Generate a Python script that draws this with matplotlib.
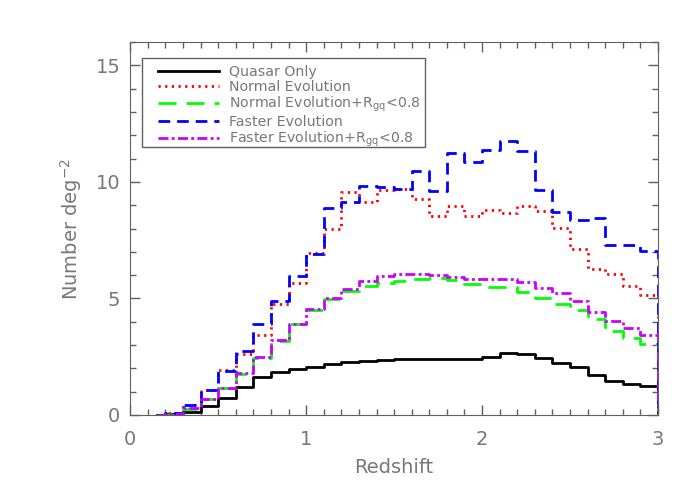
import numpy as np
import matplotlib
matplotlib.use('Agg')
import matplotlib.pyplot as plt
from matplotlib.patches import Rectangle
from matplotlib.ticker import MultipleLocator

# bin centres in redshift (last point closes the histogram at z=3)
z = [0.15, 0.25, 0.35, 0.45, 0.55, 0.65, 0.75, 0.85, 0.95, 1.05,
     1.15, 1.25, 1.35, 1.45, 1.55, 1.65, 1.75, 1.85, 1.95, 2.05,
     2.15, 2.25, 2.35, 2.45, 2.55, 2.65, 2.75, 2.85, 2.95, 3.05]

quasar_only = [0.0, 0.03, 0.12, 0.37, 0.72, 1.19, 1.65, 1.84, 1.97, 2.08,
               2.20, 2.27, 2.33, 2.37, 2.40, 2.41, 2.41, 2.41, 2.41, 2.50,
               2.68, 2.63, 2.45, 2.25, 2.05, 1.72, 1.45, 1.33, 1.25, 0.1]

normal_evol = [0.0, 0.07, 0.43, 1.08, 1.92, 2.61, 3.45, 4.74, 5.67, 6.94,
               7.97, 9.58, 9.12, 9.67, 9.70, 9.27, 8.52, 8.95, 8.55, 8.81,
               8.65, 8.98, 8.74, 8.02, 7.14, 6.25, 6.03, 5.53, 5.14, 0.2]

normal_evol_rgq = [0.0, 0.02, 0.25, 0.67, 1.15, 1.75, 2.44, 3.16, 3.91, 4.50,
                   4.99, 5.34, 5.53, 5.67, 5.75, 5.85, 5.89, 5.78, 5.60, 5.49,
                   5.49, 5.29, 5.03, 4.78, 4.50, 4.10, 3.59, 3.30, 3.05, 0.2]

faster_evol = [0.0, 0.08, 0.45, 1.08, 1.87, 2.73, 3.92, 4.88, 5.96, 6.92,
               8.87, 9.12, 9.84, 9.80, 9.70, 10.45, 9.63, 11.25, 10.85, 11.38,
               11.75, 11.32, 9.66, 8.72, 8.36, 8.45, 7.28, 7.28, 7.04, 0.3]

faster_evol_rgq = [0.0, 0.05, 0.30, 0.70, 1.15, 1.80, 2.50, 3.20, 3.92, 4.54,
                   5.00, 5.42, 5.75, 5.96, 6.06, 6.03, 5.99, 5.92, 5.85, 5.82,
                   5.82, 5.70, 5.46, 5.24, 4.88, 4.41, 4.02, 3.74, 3.45, 0.2]

labels = ['Quasar Only', 'Normal Evolution', 'Normal Evolution+R$_{gq}$<0.8',
          'Faster Evolution', 'Faster Evolution+R$_{gq}$<0.8']

plt.rcParams['mathtext.default'] = 'regular'
text_col = '#787878'
axis_col = '#606060'

fig = plt.figure(figsize=(7, 5), dpi=100)
ax = fig.add_axes([0.186, 0.17, 0.754, 0.746])

ax.step(z, quasar_only, where='mid', color='black', lw=2, label=labels[0])
ax.step(z, normal_evol, where='mid', color='#ff0000', lw=2,
        linestyle=(0, (0.8, 1.6)), label=labels[1])
ax.step(z, normal_evol_rgq, where='mid', color='#00ff00', lw=2,
        linestyle=(0, (6.5, 3.6)), label=labels[2])
ax.step(z, faster_evol, where='mid', color='#0000ff', lw=2,
        linestyle=(0, (4.2, 2.5)), label=labels[3])
ax.step(z, faster_evol_rgq, where='mid', color='#cc00ff', lw=2,
        linestyle=(0, (3.6, 1.2, 1.0, 1.2)), label=labels[4])

ax.set_xlim(0, 3)
ax.set_ylim(0, 16)
ax.xaxis.set_major_locator(MultipleLocator(1))
ax.xaxis.set_minor_locator(MultipleLocator(0.1))
ax.yaxis.set_major_locator(MultipleLocator(5))
ax.yaxis.set_minor_locator(MultipleLocator(1))
ax.tick_params(which='both', direction='in', top=True, right=True,
               color=axis_col, labelcolor=text_col, labelsize=14)
ax.tick_params(axis='x', pad=11)
ax.tick_params(axis='y', pad=7)
ax.tick_params(which='major', length=7, width=1)
ax.tick_params(which='minor', length=4, width=1)
for sp in ax.spines.values():
    sp.set_color(axis_col)

ax.set_xlabel('Redshift', fontsize=14, color=text_col, labelpad=6)
ax.set_ylabel('Number deg$^{-2}$', fontsize=14, color=text_col, labelpad=8)

# legend: frameless entries inside a hand placed box (IDL style wide left margin)
ax.add_patch(Rectangle((0.0227, 0.7185), 0.536, 0.2385, transform=ax.transAxes,
                       facecolor='white', edgecolor=axis_col, lw=1, zorder=4))
leg = ax.legend(loc='upper left', bbox_to_anchor=(0.053, 0.938), borderaxespad=0,
                borderpad=0, fontsize=10.2, handlelength=4.3, handletextpad=0.7,
                labelspacing=0.06, frameon=False)
leg.set_zorder(5)
for t in leg.get_texts():
    t.set_color(text_col)

plt.savefig('out.png', dpi=100)
